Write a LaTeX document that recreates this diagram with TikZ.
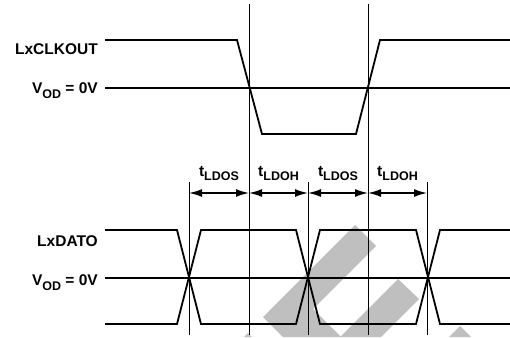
\documentclass[tikz,border=0pt]{standalone}
\usepackage{fontspec}
\setmainfont{Liberation Sans}
\usetikzlibrary{arrows.meta,positioning}
\newcommand{\lsub}[2]{\raisebox{#1}{\fontsize{12.5}{12.5}\selectfont #2}}

\begin{document}
\begin{tikzpicture}[x=1pt, y=-1pt, line join=miter]
\useasboundingbox (0,0) rectangle (510,337);
\tikzstyle{wave} = [line width=1.8pt]
\tikzstyle{edgeline} = [line width=0.9pt]
\tikzstyle{dim} = [line width=1.6pt, {Latex[length=13pt,width=8pt]}-{Latex[length=13pt,width=8pt]}]
\tikzstyle{wmark} = [fill=black!25]
\tikzstyle{every node} = [inner sep=0pt, font=\fontsize{15.5}{16}\selectfont\bfseries]
% watermark
\fill[wmark] (355,225) -- (376,246) -- (313,309) -- (341,337) -- (283,337) -- (263,317) -- cycle;
\fill[wmark] (398,279) -- (419,299) -- (381,337) -- (340,337) -- cycle;
\fill[wmark] (449,337) -- (460,326) -- (471,337) -- cycle;
\fill[wmark] (244,337) -- (248,333) -- (252,337) -- cycle;
% labels
\node[anchor=base east] (clk) at (98,55) {LxCLKOUT};
\node[anchor=base east] (vodt) at (98,93) {V\lsub{-5.5pt}{OD} = 0V};
\node[anchor=base east] (dat) at (98,246.5) {LxDATO};
\node[anchor=base east] (vodb) at (98,285) {V\lsub{-5.5pt}{OD} = 0V};
% clock edges and data edges
\coordinate (c1) at (249,4);
\coordinate (c1b) at (249,335);
\coordinate (c2) at (368,4);
\coordinate (c2b) at (368,335);
\coordinate (d1) at (189,182);
\coordinate (d1b) at (189,335);
\coordinate (d2) at (308,182);
\coordinate (d2b) at (308,335);
\coordinate (d3) at (427,182);
\coordinate (d3b) at (427,335);
\draw[edgeline] (c1) -- (c1b)
	(c2) -- (c2b)
	(d1) -- (d1b)
	(d2) -- (d2b)
	(d3) -- (d3b);
% waveforms
\draw[wave] (105,40) -- (237,40) -- (262,134) -- (356,134) -- (380,40) -- (510,40);
\draw[wave] (105,88) -- (510,88);
\draw[wave] (105,230) -- (177,230) -- (201,324) -- (296,324) -- (320,230) -- (416,230) -- (440,324) -- (510,324);
\draw[wave] (105,324) -- (177,324) -- (201,230) -- (296,230) -- (320,324) -- (416,324) -- (440,230) -- (510,230);
\draw[wave] (105,278) -- (510,278);
% setup and hold
\coordinate (a0) at (189,193);
\coordinate (a1) at (249,193);
\coordinate (a2) at (308,193);
\coordinate (a3) at (368,193);
\coordinate (a4) at (427,193);
\draw[dim] (a0) -- node[above=12pt] (ts1) {t\lsub{-3.5pt}{LDOS}} (a1);
\draw[dim] (a1) -- node[above=12pt] (th1) {t\lsub{-3.5pt}{LDOH}} (a2);
\draw[dim] (a2) -- node[above=12pt] (ts2) {t\lsub{-3.5pt}{LDOS}} (a3);
\draw[dim] (a3) -- node[above=12pt] (th2) {t\lsub{-3.5pt}{LDOH}} (a4);
\end{tikzpicture}
\end{document}
